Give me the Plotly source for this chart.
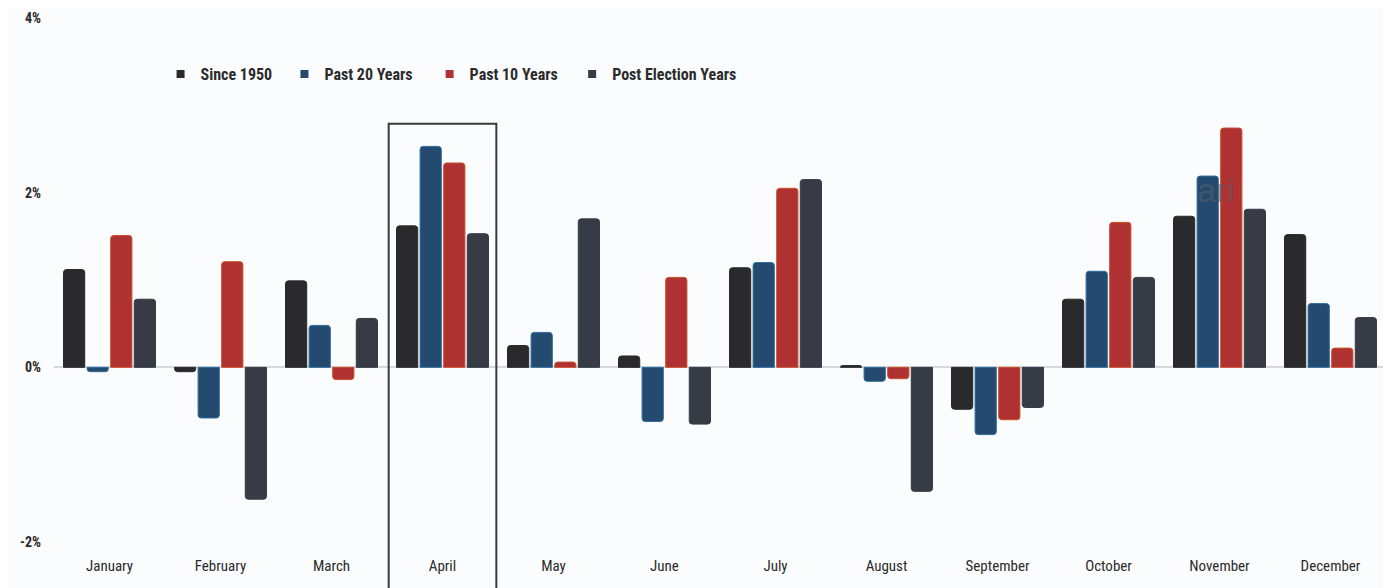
import plotly.graph_objects as go

# Dados (retorno médio mensal, %)
meses = ["January", "February", "March", "April", "May", "June",
         "July", "August", "September", "October", "November", "December"]

desde_1950 = [1.12, -0.05, 0.99, 1.62, 0.25, 0.13, 1.14, 0.02, -0.48, 0.78, 1.73, 1.52]
ultimos_20 = [-0.05, -0.58, 0.48, 2.53, 0.40, -0.62, 1.20, -0.16, -0.77, 1.10, 2.19, 0.73]
ultimos_10 = [1.51, 1.21, -0.14, 2.34, 0.06, 1.03, 2.05, -0.13, -0.60, 1.66, 2.74, 0.22]
pos_eleicao = [0.78, -1.51, 0.56, 1.53, 1.70, -0.65, 2.15, -1.42, -0.46, 1.03, 1.81, 0.57]

nomes = ["Since 1950", "Past 20 Years", "Past 10 Years", "Post Election Years"]
y_ticks = [-2, 0, 2, 4]
y_labels = ["-2%", "0%", "2%", "4%"]

cores = ["#2a2a2d", "#244a6f", "#b03132", "#363b45"]
bordas = ["#2a2a2d", "#2e6d9e", "#c9502a", "#363b45"]

fonte = "Liberation Sans Narrow, Arial Narrow, Roboto Condensed, Roboto, sans-serif"

fig = go.Figure()
for nome, valores, cor, borda in zip(nomes, [desde_1950, ultimos_20, ultimos_10, pos_eleicao], cores, bordas):
    fig.add_trace(go.Bar(
        x=meses,
        y=valores,
        name=nome,
        showlegend=False,
        marker=dict(color=cor, line=dict(color=borda, width=1), cornerradius=3),
    ))

# entradas da legenda com quadradinhos, uma legenda por série p/ acertar o espaçamento
legendas = ["legend", "legend2", "legend3", "legend4"]
pos_legenda = [0.080, 0.173, 0.282, 0.389]
for nome, cor, leg in zip(nomes, cores, legendas):
    fig.add_trace(go.Scatter(
        x=[None], y=[None], mode="markers", name=nome, legend=leg,
        marker=dict(symbol="square", size=8, color=cor),
    ))

# Caixa destacando abril
fig.add_shape(
    type="rect", xref="x", yref="paper",
    x0=2.515, x1=3.485, y0=-0.11, y1=0.798,
    line=dict(color="#3a3a3a", width=2),
    fillcolor="rgba(0,0,0,0)",
    layer="above",
)

# marca d'água parcial
fig.add_annotation(
    text="ari", xref="paper", yref="paper", x=0.872, y=0.672,
    xanchor="center", yanchor="middle",
    showarrow=False, font=dict(size=34, color="rgba(90,95,102,0.55)", family="Arial, sans-serif"),
)

fig.update_layout(
    width=1391,
    height=588,
    margin=dict(l=46, r=13, t=10, b=54),
    paper_bgcolor="#fbfcfd",
    plot_bgcolor="#fbfcfd",
    barmode="group",
    bargap=0.15,
    bargroupgap=0.1,
    font=dict(family=fonte, color="#2b2b2b"),
    showlegend=True,
)

for leg, xpos in zip(legendas, pos_legenda):
    fig.update_layout({leg: dict(
        orientation="h",
        x=xpos, y=0.893,
        xanchor="left", yanchor="middle",
        font=dict(size=16, family=fonte, color="#2b2b2b", weight="bold"),
        bgcolor="rgba(0,0,0,0)",
        itemwidth=30,
    )})

fig.update_xaxes(
    automargin=False,
    showgrid=False,
    showline=False,
    ticks="",
    tickfont=dict(size=15, family=fonte, color="#2b2b2b"),
    ticklabelstandoff=13,
)
fig.update_yaxes(
    automargin=False,
    range=[-2, 4],
    tickvals=y_ticks,
    ticktext=y_labels,
    showgrid=False,
    zeroline=True,
    zerolinecolor="#d5d8dc",
    zerolinewidth=2,
    showline=False,
    tickfont=dict(size=14, family=fonte, color="#2b2b2b", weight="bold"),
    ticklabelstandoff=12,
)

fig.write_html("out.html")
